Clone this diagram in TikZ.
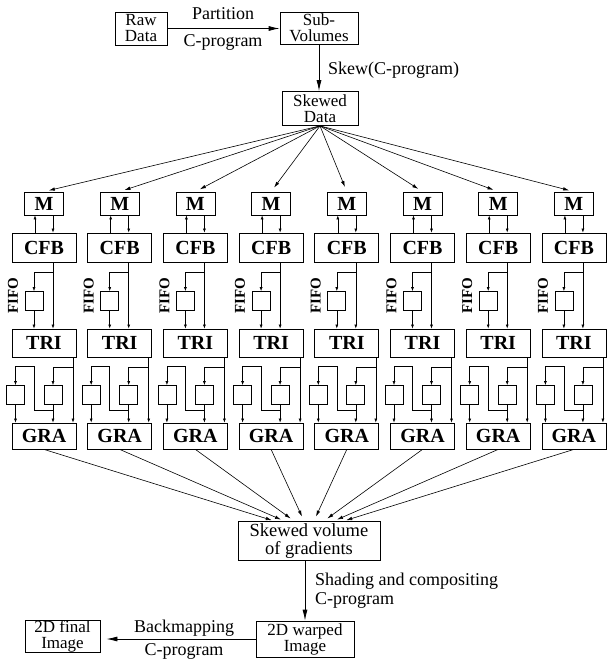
\documentclass[tikz,border=0pt]{standalone}
\usepackage{fontspec}
\setmainfont{Liberation Serif}
\usetikzlibrary{arrows.meta}
\begin{document}
\begin{tikzpicture}[x=1pt,y=-1pt,
  box/.style={draw,line width=0.8pt,inner sep=0pt,align=center},
  lbl/.style={font=\fontsize{18}{15}\selectfont,inner sep=0pt,align=center},
  two/.style={box,font=\fontsize{17}{16}\selectfont},
  unit/.style={box,font=\bfseries\fontsize{20}{20}\selectfont,minimum width=64pt},
  fifo/.style={draw,line width=0.7pt,minimum width=18pt,minimum height=19pt,inner sep=0pt},
  fifolbl/.style={rotate=90,font=\bfseries\fontsize{15}{15}\selectfont,inner sep=0pt},
  con/.style={line width=0.6pt,-{Latex[length=4pt,width=3pt]}},
  big/.style={line width=0.8pt,-{Latex[length=11pt,width=5pt]}},
  fan/.style={line width=0.6pt,-{Latex[length=6pt,width=3.5pt]}}
]
\useasboundingbox (0,0) rectangle (609,666);
% top chain
\node[two,minimum width=52pt,minimum height=33pt] (raw) at (141,28.5) {Raw\\Data};
\node[two,minimum width=78pt,minimum height=32pt] (sub) at (319,28) {Sub-\\Volumes};
\node[two,minimum width=76pt,minimum height=34pt] (sd) at (320,108.5) {Skewed\\Data};
\draw[big] (raw.east) -- (raw.east -| sub.west);
\node[lbl] (lpart) at (223,14) {Partition};
\node[lbl] (lcp1) at (223,42) {C-program};
\draw[big] (sub.south) -- (sub.south |- sd.north);
\node[lbl,anchor=west] (lskew) at (328,70) {Skew(C-program)};
% bottom chain
\node[two,font=\fontsize{18.5}{18}\selectfont,minimum width=142pt,minimum height=39pt] (svg) at (309,541) {Skewed volume\\of gradients};
\node[two,minimum width=98pt,minimum height=36pt] (warp) at (305,639) {2D warped\\Image};
\node[two,minimum width=75pt,minimum height=32pt] (final) at (62.5,636) {2D final\\Image};
\draw[big] (svg.south -| warp.north) -- (warp.north);
\node[lbl,anchor=west] (lshade) at (315,581) {Shading and compositing};
\node[lbl,anchor=west] (lcp2) at (315,600) {C-program};
\draw[big,shorten >=6pt] (warp.west) -- (warp.west -| final.east);
\node[lbl] (lback) at (184,628) {Backmapping};
\node[lbl] (lcp3) at (184,651) {C-program};
% columns
\foreach \i in {1,...,8}{
  \pgfmathsetmacro{\c}{44+75.7*(\i-1)}
  \pgfmathsetmacro{\e}{277.5+9*(\i-1)}
  \node[unit,minimum width=39pt,minimum height=23pt] (M\i) at (\c,203.5) {M};
  \node[unit,minimum height=29pt] (C\i) at (\c,247.5) {CFB};
  \node[fifo] (F\i) at (\c-10,301) {};
  \node[fifolbl] (FL\i) at (\c-31,296) {FIFO};
  \node[unit,minimum height=28pt] (T\i) at (\c,343) {TRI};
  \node[fifo] (L\i) at (\c-28.5,395) {};
  \node[fifo] (R\i) at (\c+9,395) {};
  \node[unit,minimum height=26pt] (G\i) at (\c,436) {GRA};
  \coordinate (e\i) at (\e,522);
  % fan out / fan in
  \draw[fan,shorten >=5pt] (sd.south) -- (M\i.north);
  \draw[fan,shorten >=6pt] (G\i.south) -- (e\i);
  % M <-> CFB
  \draw[con] ([xshift=-9pt]C\i.north) -- ([xshift=-9pt]M\i.south);
  \draw[con] ([xshift=9pt]M\i.south) -- ([xshift=9pt]C\i.north);
  % CFB -> FIFO -> TRI
  \draw[con] ([xshift=9pt]C\i.south) -- ([xshift=9pt]T\i.north);
  \draw[con] (\c+9,272) -| (F\i.north);
  \draw[con] (F\i.south) -- (F\i.south |- T\i.north);
  % TRI -> FIFOs -> GRA
  \draw[con] ([xshift=29pt]T\i.south) -- ([xshift=29pt]G\i.north);
  \draw[con] (\c+29,367) -| (R\i.north);
  \draw[con] (R\i.south) -- (R\i.south |- G\i.north);
  \draw[con] (\c+9,410) -- (\c-10,410) -- (\c-10,366) -| (L\i.north);
  \draw[con] (L\i.south) -- (L\i.south |- G\i.north);
}
\end{tikzpicture}
\end{document}
